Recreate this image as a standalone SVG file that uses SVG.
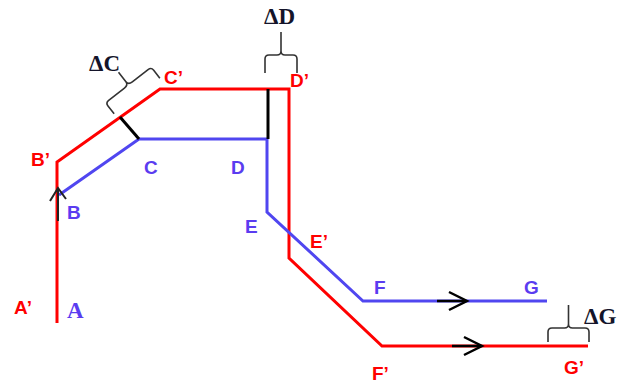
<svg xmlns="http://www.w3.org/2000/svg" width="629" height="385" viewBox="0 0 629 385">
<style>
.red{fill:none;stroke:#ff0000;stroke-width:3;stroke-linejoin:miter}
.blue{fill:none;stroke:#5046f0;stroke-width:3;stroke-linejoin:miter}
.blk{fill:none;stroke:#000;stroke-width:3}
.arr{fill:none;stroke:#000;stroke-width:2.5;stroke-linejoin:miter}
.thin{fill:none;stroke:#222;stroke-width:2}
.brace{fill:none;stroke:#333;stroke-width:1.6}
.lr{font-family:"Liberation Sans",Arial,sans-serif;font-weight:bold;font-size:19px;fill:#ff0000}
.lb{font-family:"Liberation Sans",Arial,sans-serif;font-weight:bold;font-size:19px;fill:#5a3cf0}
.ls{font-family:"Liberation Serif","Times New Roman",serif;font-weight:bold;font-size:23px;fill:#5a3cf0}
.dl{font-family:"Liberation Serif","Times New Roman",serif;font-weight:bold;font-size:23px;fill:#14142a}
</style>
<g id="connectors">
<path class="red" d="M57,323 V162 L160,89 H289 V258 L382,346 H588"/>
<path class="blue" d="M59,195 L139,139 H267 V212 L363,301 H547"/>
<line class="blk" x1="120" y1="117" x2="139" y2="139"/>
<line class="blk" x1="268" y1="89" x2="268" y2="139"/>
<line class="thin" x1="58" y1="188" x2="58" y2="221"/>
<polyline class="thin" points="50,201 58,188 66,199"/>
<line class="arr" x1="437" y1="301" x2="466" y2="301"/>
<polyline class="arr" points="449,292 467,301 449,310"/>
<line class="arr" x1="452" y1="346" x2="481" y2="346"/>
<polyline class="arr" points="464,337 482,346 464,355"/>
</g>
<g id="brace-C" transform="translate(137,96) rotate(-38)">
<path class="brace" d="M-29,0 V-10 Q-29,-14 -25,-14 H-5 Q0,-14 0,-18 V-30 M0,-18 Q0,-14 5,-14 H25 Q29,-14 29,-10 V0"/>
</g>
<g id="brace-D" transform="translate(281,73)">
<path class="brace" d="M-16,0 V-14 Q-16,-18 -12,-18 H-4 Q0,-18 0,-22 V-41 M0,-22 Q0,-18 4,-18 H12 Q16,-18 16,-14 V0"/>
</g>
<g id="brace-G" transform="translate(568.5,342)">
<path class="brace" d="M-20.5,0 V-10 Q-20.5,-14 -16.5,-14 H-4 Q0,-14 0,-18 V-37 M0,-18 Q0,-14 4,-14 H16.5 Q20.5,-14 20.5,-10 V0"/>
</g>
<g id="node-A1"><text class="lr" x="14" y="314">A’</text></g>
<g id="node-A"><text class="ls" x="67" y="318">A</text></g>
<g id="node-B1"><text class="lr" x="31" y="166">B’</text></g>
<g id="node-B"><text class="lb" x="67" y="219">B</text></g>
<g id="node-C1"><text class="lr" x="164" y="84">C’</text></g>
<g id="node-C"><text class="lb" x="144" y="174">C</text></g>
<g id="node-D"><text class="lb" x="231" y="174">D</text></g>
<g id="node-D1"><text class="lr" x="290" y="87">D’</text></g>
<g id="node-E"><text class="lb" x="245" y="233">E</text></g>
<g id="node-E1"><text class="lr" x="310" y="248">E’</text></g>
<g id="node-F"><text class="lb" x="374" y="294">F</text></g>
<g id="node-G"><text class="lb" x="524" y="294">G</text></g>
<g id="node-F1"><text class="lr" x="372" y="380">F’</text></g>
<g id="node-G1"><text class="lr" x="564" y="374">G’</text></g>
<g id="label-dC"><text class="dl" x="89" y="71">ΔC</text></g>
<g id="label-dD"><text class="dl" x="264" y="24">ΔD</text></g>
<g id="label-dG"><text class="dl" x="584" y="324">ΔG</text></g>
</svg>
